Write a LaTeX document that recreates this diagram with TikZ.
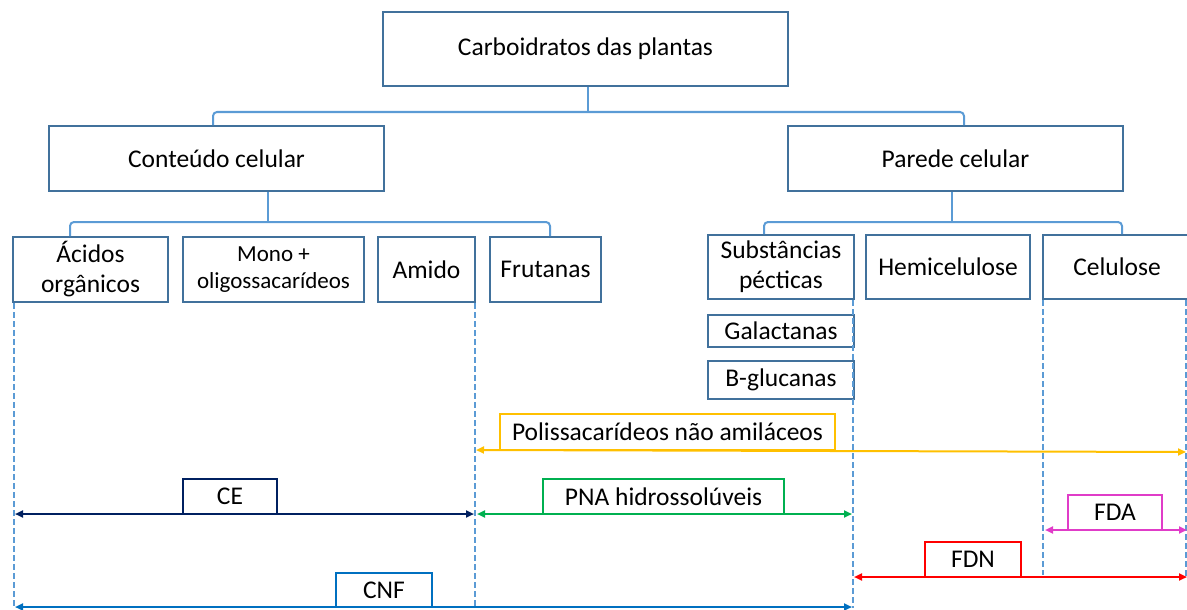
\documentclass[tikz,border=0pt]{standalone}
\usepackage{fontspec}
\setmainfont{Carlito}
\usetikzlibrary{arrows.meta}
\definecolor{boxc}{HTML}{41719C}
\definecolor{conn}{HTML}{5B9BD5}
\definecolor{orng}{HTML}{FFC000}
\definecolor{navy}{HTML}{002060}
\definecolor{grn}{HTML}{00B050}
\definecolor{mag}{HTML}{E03CC8}
\definecolor{rd}{HTML}{FF0000}
\definecolor{blu}{HTML}{0070C0}
\begin{document}
\begin{tikzpicture}[x=1pt,y=-1pt,
  box/.style={draw=boxc,line width=2pt,inner sep=0pt,align=center,
    font=\fontsize{25.5}{30}\selectfont},
  lbl/.style={draw=#1,line width=2.4pt,inner sep=0pt,fill=white,
    font=\fontsize{25.5}{30}\selectfont},
  brace/.style={draw=conn,line width=2pt,rounded corners=4pt},
  dsh/.style={draw=conn,line width=2pt,dash pattern=on 6pt off 3pt},
  arr/.style={draw=#1,line width=2pt,{Triangle[length=8pt,width=7pt]}-{Triangle[length=8pt,width=7pt]}}]
\useasboundingbox (0,0) rectangle (1187,610);
% top levels
\node[box,minimum width=405,minimum height=74] (top) at (585.5,49) {Carboidratos das plantas};
\node[box,minimum width=335,minimum height=65] (cc) at (216.5,158.5) {Conteúdo celular};
\node[box,minimum width=335,minimum height=65] (pc) at (955.5,158.5) {Parede celular};
% third level
\node[box,minimum width=155,minimum height=65] (ac) at (90.5,269.5) {Ácidos\\orgânicos};
\node[box,minimum width=181,minimum height=65,font=\fontsize{23}{27}\selectfont] (mo) at (273.5,269.5) {Mono +\\oligossacarídeos};
\node[box,minimum width=97,minimum height=65] (am) at (426.5,269.5) {Amido};
\node[box,minimum width=111,minimum height=65] (fr) at (545.5,269.5) {Frutanas};
\node[box,minimum width=146,minimum height=64] (sp) at (781,267) {Substâncias\\pécticas};
\node[box,minimum width=164,minimum height=64] (he) at (948,267) {Hemicelulose};
\node[box,minimum width=148,minimum height=64] (ce) at (1117,267) {Celulose};
\node[box,minimum width=146,minimum height=32] (ga) at (781,331) {Galactanas};
\node[box,minimum width=146,minimum height=38] (bg) at (781,380) {B-glucanas};
% braces
\coordinate (t1) at (588,112);
\coordinate (tl) at (213,112);
\coordinate (tr) at (964,112);
\draw[brace] (t1 |- top.south) -- (t1);
\draw[brace] (tl |- cc.north) -- (tl) -- (tr) -- (tr |- pc.north);
\coordinate (l1) at (268,222);
\coordinate (ll) at (70,222);
\coordinate (lr) at (550,222);
\draw[brace] (l1 |- cc.south) -- (l1);
\draw[brace] (ll |- ac.north) -- (ll) -- (lr) -- (lr |- fr.north);
\coordinate (r1) at (952,222);
\coordinate (rl) at (764,222);
\coordinate (rr) at (1122,222);
\draw[brace] (r1 |- pc.south) -- (r1);
\draw[brace] (rl |- sp.north) -- (rl) -- (rr) -- (rr |- ce.north);
% dashed guides
\coordinate (d1) at (14,608);
\coordinate (d2) at (475,608);
\coordinate (d3) at (853,608);
\coordinate (d4) at (1043,575);
\coordinate (d5) at (1186,577);
\draw[dsh] (d1 |- ac.south) -- (d1);
\draw[dsh] (d2 |- am.south) -- (d2);
\draw[dsh] (d3 |- sp.south) -- (d3);
\draw[dsh] (d4 |- ce.south) -- (d4);
\draw[dsh,line width=1.3pt] (d5 |- ce.south) -- (d5);
% measure arrows
\coordinate (pa) at (476,450);
\coordinate (pb) at (1186,452);
\draw[arr=orng] (pa) -- (pb);
\coordinate (ca) at (15,514);
\coordinate (cb) at (474,514);
\draw[arr=navy] (ca) -- (cb);
\coordinate (na) at (477,514);
\coordinate (nb) at (852,514);
\draw[arr=grn] (na) -- (nb);
\coordinate (fa) at (1045,530);
\coordinate (fb) at (1187,530);
\draw[arr=mag] (fa) -- (fb);
\coordinate (ea) at (854,577);
\coordinate (eb) at (1187,577);
\draw[arr=rd] (ea) -- (eb);
\coordinate (ka) at (15,607);
\coordinate (kb) at (852,607);
\draw[arr=blu] (ka) -- (kb);
% labels
\node[lbl=orng,minimum width=335,minimum height=36] (pol) at (667.5,432) {Polissacarídeos não amiláceos};
\node[lbl=navy,minimum width=94,minimum height=35] (lce) at (230,496.5) {CE};
\node[lbl=grn,minimum width=241,minimum height=35] (pna) at (663.5,496.5) {PNA hidrossolúveis};
\node[lbl=mag,minimum width=94,minimum height=35] (fda) at (1115,512.5) {FDA};
\node[lbl=rd,minimum width=96,minimum height=35] (fdn) at (973,559.5) {FDN};
\node[lbl=blu,minimum width=96,minimum height=34] (cnf) at (384,590) {CNF};
\end{tikzpicture}
\end{document}
